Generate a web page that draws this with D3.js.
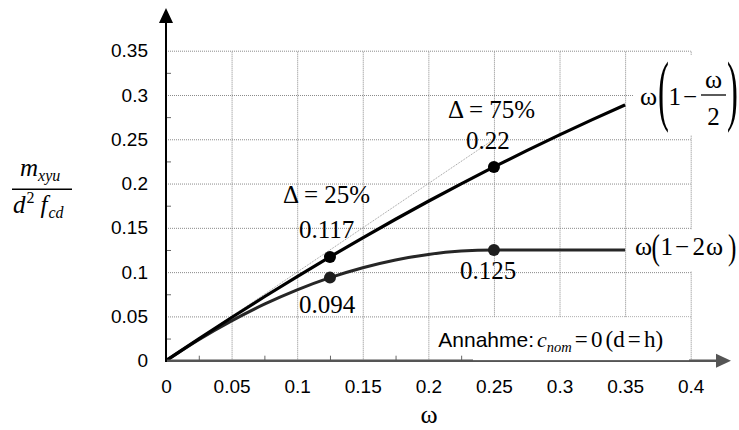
<!DOCTYPE html>
<html><head><meta charset="utf-8">
<script src="https://cdn.jsdelivr.net/npm/d3@7"></script>
<style>body{margin:0;background:#fff}svg{display:block}</style>
</head><body>
<svg id="c" width="739" height="430"></svg>
<script>
// ---- data ----
const xTicks = [0, 0.05, 0.1, 0.15, 0.2, 0.25, 0.3, 0.35, 0.4];
const xTickLabels = ["0", "0.05", "0.1", "0.15", "0.2", "0.25", "0.3", "0.35", "0.4"];
const yTicks = [0, 0.05, 0.1, 0.15, 0.2, 0.25, 0.3, 0.35];
const yTickLabels = ["0", "0.05", "0.1", "0.15", "0.2", "0.25", "0.3", "0.35"];
const xMinor = [0.025, 0.075, 0.125, 0.175, 0.225, 0.275, 0.325, 0.375];
const yMinor = [0.025, 0.075, 0.125, 0.175, 0.225, 0.275, 0.325];

const omega = [0, 0.025, 0.05, 0.075, 0.1, 0.125, 0.15, 0.175, 0.2, 0.225, 0.25, 0.275, 0.3, 0.325, 0.35];
const upperVals = [0, 0.0247, 0.0488, 0.0722, 0.095, 0.1172, 0.1388, 0.1597, 0.18, 0.1997, 0.2188, 0.2372, 0.255, 0.2722, 0.2888];
const lowerVals = [0, 0.0238, 0.045, 0.0638, 0.08, 0.0938, 0.105, 0.1138, 0.12, 0.1238, 0.125, 0.125, 0.125, 0.125, 0.125];

const refOmega = [0, 0.25];
const refVals = [0, 0.25];

const markerOmega = [0.125, 0.125, 0.25, 0.25];
const markerVals = [0.1172, 0.0938, 0.2188, 0.125];
const markerSeries = ["upper", "lower", "upper", "lower"];

// ---- drawing ----
const svg = d3.select("#c");
const SANS = "'Liberation Sans', Arial, sans-serif";
const SERIF = "'Liberation Serif', 'Times New Roman', serif";
const x = d3.scaleLinear().domain([0, 0.4]).range([166, 690.7]);
const y = d3.scaleLinear().domain([0, 0.35]).range([360.7, 50.7]);

// grid + labels
const gx = svg.append("g").attr("transform", `translate(0,${y(0)})`)
  .call(d3.axisBottom(x).tickValues(xTicks).tickSize(-(y(0) - y(0.35))).tickPadding(18.5)
    .tickFormat((d, i) => xTickLabels[i]));
gx.select(".domain").remove();
gx.selectAll(".tick line").attr("stroke", "#8a8a8a").attr("stroke-dasharray", "1 1");
gx.selectAll(".tick text").attr("font-family", SANS).attr("font-size", 19).attr("fill", "#000");

const gy = svg.append("g").attr("transform", `translate(${x(0)},0)`)
  .call(d3.axisLeft(y).tickValues(yTicks).tickSize(-(x(0.4) - x(0))).tickPadding(18)
    .tickFormat((d, i) => yTickLabels[i]));
gy.select(".domain").remove();
gy.selectAll(".tick line").attr("stroke", "#8a8a8a").attr("stroke-dasharray", "1 1");
gy.selectAll(".tick text").attr("font-family", SANS).attr("font-size", 19).attr("fill", "#000");

// minor ticks
const mx = svg.append("g").attr("transform", `translate(0,${y(0)})`)
  .call(d3.axisBottom(x).tickValues(xMinor).tickSize(-5).tickFormat(""));
mx.select(".domain").remove();
mx.selectAll(".tick line").attr("stroke", "#666");
const my = svg.append("g").attr("transform", `translate(${x(0)},0)`)
  .call(d3.axisLeft(y).tickValues(yMinor).tickSize(-5).tickFormat(""));
my.select(".domain").remove();
my.selectAll(".tick line").attr("stroke", "#666");

// white backgrounds of the formula labels
svg.append("rect").attr("x", 633).attr("y", 55).attr("width", 106).attr("height", 80).attr("fill", "#fff");
svg.append("rect").attr("x", 632).attr("y", 229.5).attr("width", 107).attr("height", 41.5).attr("fill", "#fff");

// reference line (tangent)
const line = d3.line().x(d => x(d[0])).y(d => y(d[1]));
svg.append("path").datum(refOmega.map((w, i) => [w, refVals[i]]))
  .attr("d", line).attr("fill", "none").attr("stroke", "#9a9a9a").attr("stroke-width", 1)
  .attr("stroke-dasharray", "1 1");

// curves
const curve = d3.line().x(d => x(d[0])).y(d => y(d[1])).curve(d3.curveMonotoneX);
svg.append("path").datum(omega.map((w, i) => [w, lowerVals[i]]))
  .attr("d", curve).attr("fill", "none").attr("stroke", "#262626").attr("stroke-width", 3);
svg.append("path").datum(omega.map((w, i) => [w, upperVals[i]]))
  .attr("d", curve).attr("fill", "none").attr("stroke", "#000").attr("stroke-width", 3.2);

// markers
svg.selectAll("circle.m").data(markerOmega).join("circle").attr("class", "m")
  .attr("cx", d => x(d)).attr("cy", (d, i) => y(markerVals[i])).attr("r", 6)
  .attr("fill", (d, i) => markerSeries[i] === "upper" ? "#000" : "#1e1e1e");

// axes lines with arrows
svg.append("line").attr("x1", x(0)).attr("x2", 716).attr("y1", y(0)).attr("y2", y(0))
  .attr("stroke", "#555").attr("stroke-width", 2.6);
svg.append("path").attr("d", `M716,${y(0) - 7}L731,${y(0)}L716,${y(0) + 7}Z`).attr("fill", "#555");
svg.append("line").attr("x1", x(0)).attr("x2", x(0)).attr("y1", y(0) + 1.3).attr("y2", 22)
  .attr("stroke", "#000").attr("stroke-width", 2);
svg.append("path").attr("d", `M${x(0) - 7},23L${x(0)},8L${x(0) + 7},23Z`).attr("fill", "#000");

// Annahme box
svg.append("rect").attr("x", 473).attr("y", y(0.05) + 0.8).attr("width", 216).attr("height", y(0) - y(0.05) - 1.4).attr("fill", "#fff");
const ann = svg.append("text").attr("x", 438.3).attr("y", 346.7).attr("fill", "#000");
ann.append("tspan").attr("font-family", SANS).attr("font-size", 21).text("Annahme:");
ann.append("tspan").attr("dx", 3).attr("font-family", SERIF).attr("font-style", "italic").attr("font-size", 22).text("c");
ann.append("tspan").attr("dy", 5).attr("font-family", SERIF).attr("font-style", "italic").attr("font-size", 14.5).text("nom");
ann.append("tspan").attr("dy", -5).attr("dx", 3).attr("font-family", SERIF).attr("font-size", 23)
  .attr("word-spacing", -2.6).text("= 0 (d = h)");

// value labels
function st(sel, size) { return sel.attr("font-family", SERIF).attr("font-size", size).attr("fill", "#000"); }
st(svg.append("text").attr("x", 283).attr("y", 202.7), 25).text("\u0394 = 25%");
st(svg.append("text").attr("x", 299).attr("y", 237.7), 25).text("0.117");
st(svg.append("text").attr("x", 299).attr("y", 312.7), 25).text("0.094");
st(svg.append("text").attr("x", 448).attr("y", 118.3), 25).text("\u0394 = 75%");
st(svg.append("text").attr("x", 466).attr("y", 149.3), 25).text("0.22");
st(svg.append("text").attr("x", 460).attr("y", 279), 25).text("0.125");

// formula: ω(1 − ω/2)
st(svg.append("text").attr("x", 640).attr("y", 105), 26).text("\u03c9");
st(svg.append("text").attr("transform", "translate(658,116) scale(0.42,1)"), 78).text("(");
st(svg.append("text").attr("x", 668.5).attr("y", 105), 25).text("1");
st(svg.append("text").attr("x", 683).attr("y", 105), 25).text("\u2212");
st(svg.append("text").attr("x", 713.5).attr("y", 88).attr("text-anchor", "middle"), 26).text("\u03c9");
svg.append("line").attr("x1", 701).attr("x2", 726).attr("y1", 95).attr("y2", 95).attr("stroke", "#000").attr("stroke-width", 1.3);
st(svg.append("text").attr("x", 713.5).attr("y", 124.5).attr("text-anchor", "middle"), 25).text("2");
st(svg.append("text").attr("transform", "translate(727,116) scale(0.42,1)"), 78).text(")");

// formula: ω(1 − 2ω)
st(svg.append("text").attr("x", 635).attr("y", 255), 26).text("\u03c9");
st(svg.append("text").attr("transform", "translate(651.5,258.5) scale(0.72,1)"), 35).text("(");
st(svg.append("text").attr("x", 660.5).attr("y", 255), 25).text("1");
st(svg.append("text").attr("x", 675).attr("y", 255), 25).text("\u2212");
st(svg.append("text").attr("x", 692.5).attr("y", 255), 25).text("2");
st(svg.append("text").attr("x", 706).attr("y", 255), 26).text("\u03c9");
st(svg.append("text").attr("transform", "translate(728,258.5) scale(0.72,1)"), 35).text(")");

// axis titles
st(svg.append("text").attr("x", 429).attr("y", 423).attr("text-anchor", "middle"), 26).text("\u03c9");
const num = svg.append("text").attr("x", 20).attr("y", 176).attr("fill", "#000").attr("font-family", SERIF).attr("font-style", "italic");
num.append("tspan").attr("font-size", 25).text("m");
num.append("tspan").attr("font-size", 16).attr("dy", 5).text("xyu");
svg.append("line").attr("x1", 12).attr("x2", 72).attr("y1", 189.3).attr("y2", 189.3).attr("stroke", "#000").attr("stroke-width", 1.4);
const den = svg.append("text").attr("x", 13).attr("y", 212.7).attr("fill", "#000").attr("font-family", SERIF);
den.append("tspan").attr("font-size", 25).attr("font-style", "italic").text("d");
den.append("tspan").attr("font-size", 16).attr("dy", -10).attr("dx", 1).text("2");
den.append("tspan").attr("font-size", 25).attr("font-style", "italic").attr("dy", 10).attr("dx", 6).text("f");
den.append("tspan").attr("font-size", 16).attr("font-style", "italic").attr("dy", 5).attr("dx", 1).text("cd");
</script>
</body></html>
